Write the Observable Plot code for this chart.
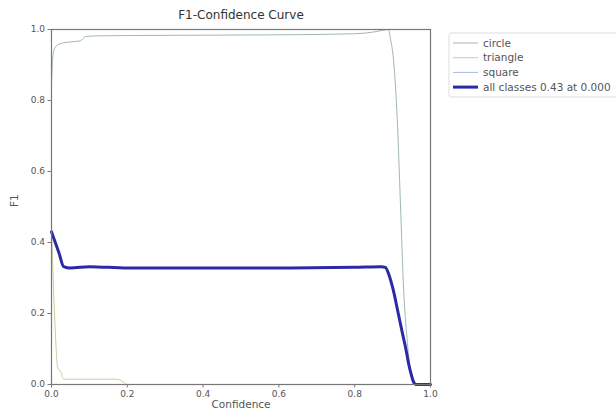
<!DOCTYPE html>
<html>
<head>
<meta charset="utf-8">
<script src="https://cdn.jsdelivr.net/npm/d3@7"></script>
<script src="https://cdn.jsdelivr.net/npm/@observablehq/plot@0.6"></script>
<style>
  html, body { margin: 0; padding: 0; background: #fff; }
  #chart { width: 616px; height: 417px; overflow: hidden; }
</style>
</head>
<body>
<div id="chart"></div>
<script>
// ---- data ----
const circleX = [0, 0.002, 0.005, 0.01, 0.018, 0.03, 0.05, 0.076, 0.09, 0.12, 0.2, 0.4, 0.6, 0.8, 0.85, 0.875, 0.889, 0.895, 0.902, 0.913, 0.921, 0.929, 0.938, 0.947, 0.955, 0.97, 1.0];
const circleY = [0.85, 0.90, 0.935, 0.95, 0.958, 0.962, 0.965, 0.968, 0.98, 0.982, 0.983, 0.984, 0.985, 0.988, 0.993, 0.998, 1.0, 0.97, 0.92, 0.73, 0.5, 0.27, 0.13, 0.04, 0.0, 0.0, 0.0];

const triangleX = [0, 0.005, 0.01, 0.016, 0.025, 0.032, 0.17, 0.18, 0.19, 0.2, 1.0];
const triangleY = [0.45, 0.28, 0.15, 0.05, 0.034, 0.015, 0.015, 0.013, 0.006, 0, 0];

const squareX = [0, 0.5, 1.0];
const squareY = [0, 0, 0];

const allX = [0, 0.01, 0.02, 0.032, 0.05, 0.1, 0.2, 0.4, 0.6, 0.8, 0.87, 0.881, 0.89, 0.902, 0.914, 0.926, 0.935, 0.942, 0.95, 0.955, 0.962, 1.0];
const allY = [0.43, 0.40, 0.37, 0.332, 0.328, 0.332, 0.328, 0.328, 0.328, 0.33, 0.332, 0.33, 0.31, 0.265, 0.205, 0.144, 0.10, 0.06, 0.025, 0.008, 0, 0];

const seriesNames = ["circle", "triangle", "square", "all classes 0.43 at 0.000"];
const seriesColors = ["#9fb8b6", "#cfcb9c", "#a9b9e6", "#2a2aa6"];
const seriesWidths = [1, 1, 1, 3];
const ticks = [0, 0.2, 0.4, 0.6, 0.8, 1.0];

const toRows = (xs, ys, s) => xs.map((x, i) => ({x, y: ys[i], s}));
const rows = [
  ...toRows(circleX, circleY, seriesNames[0]),
  ...toRows(triangleX, triangleY, seriesNames[1]),
  ...toRows(squareX, squareY, seriesNames[2]),
  ...toRows(allX, allY, seriesNames[3])
];

const fmt = d3.format(".1f");
const textColor = "#555";

const chart = Plot.plot({
  width: 616,
  height: 417,
  marginLeft: 51,
  marginRight: 186,
  marginTop: 29,
  marginBottom: 33,
  style: { fontFamily: "DejaVu Sans", fontSize: "9px", color: textColor, background: "#fff" },
  x: { domain: [0, 1], ticks, tickFormat: fmt, label: null },
  y: { domain: [0, 1], ticks, tickFormat: fmt, label: null },
  marks: [
    ...seriesNames.map((name, i) =>
      Plot.line(rows.filter(r => r.s === name), {
        x: "x", y: "y",
        stroke: seriesColors[i],
        strokeWidth: seriesWidths[i],
        strokeLinejoin: "round",
        curve: "monotone-x"
      })
    ),
    Plot.frame({ stroke: "#777", strokeWidth: 1.2 }),
    Plot.axisX({ ticks, tickFormat: fmt, tickSize: 3.5, tickPadding: 3, stroke: "#777", fill: textColor, fontSize: 9 }),
    Plot.axisY({ ticks, tickFormat: fmt, tickSize: 3.5, tickPadding: 3, stroke: "#777", fill: textColor, fontSize: 9 }),
    Plot.text(["Confidence"], { frameAnchor: "bottom", dy: 23, fontSize: 10.5, fill: textColor }),
    Plot.text(["F1"], { frameAnchor: "left", dx: -37, rotate: -90, fontSize: 10.5, fill: textColor }),
    Plot.text(["F1-Confidence Curve"], { frameAnchor: "top", dy: -19, fontSize: 12, fill: "#333" })
  ]
});

document.getElementById("chart").appendChild(chart);

// ---- legend (inside the same SVG, to the right of the plot) ----
const svg = d3.select(chart);
const lg = svg.append("g").attr("transform", "translate(449,33)");
lg.append("rect")
  .attr("width", 180).attr("height", 64)
  .attr("fill", "#fff").attr("stroke", "#ddd").attr("rx", 2);
seriesNames.forEach((name, i) => {
  const y = 10 + i * 14.7;
  lg.append("line")
    .attr("x1", 4).attr("x2", 29).attr("y1", y).attr("y2", y)
    .attr("stroke", seriesColors[i]).attr("stroke-width", seriesWidths[i]);
  lg.append("text")
    .attr("x", 34).attr("y", y).attr("dy", "0.35em")
    .attr("text-anchor", "start")
    .attr("font-family", "DejaVu Sans").attr("font-size", 10.5)
    .attr("fill", textColor)
    .text(name);
});
</script>
</body>
</html>
